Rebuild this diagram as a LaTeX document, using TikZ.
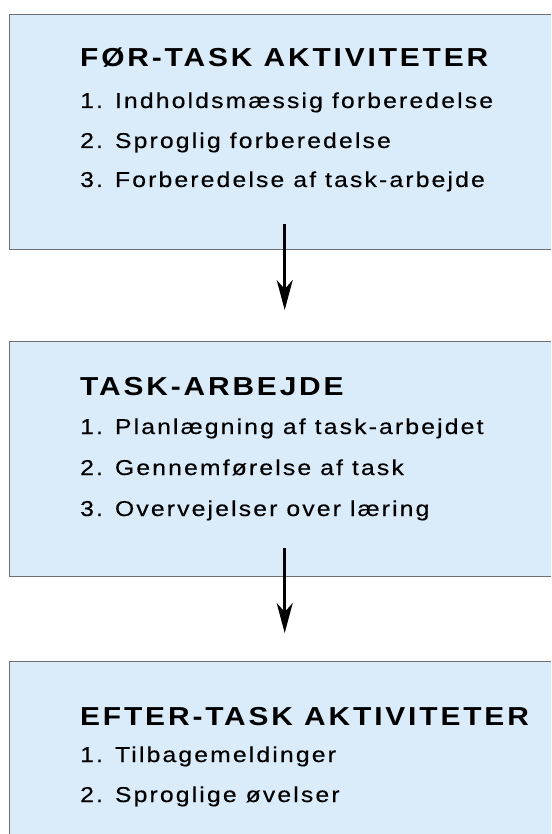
\documentclass[tikz,border=0pt]{standalone}
\usepackage{fontspec}
\setmainfont{Liberation Sans}
\newfontfamily\hfont[LetterSpace=11,FakeStretch=1.15]{Liberation Sans}
\newfontfamily\ifont[LetterSpace=10,FakeStretch=1.15,FakeBold=0.4]{Liberation Sans}
\usetikzlibrary{arrows.meta}
\definecolor{boxfill}{RGB}{218,236,250}
\definecolor{boxline}{RGB}{110,112,115}
\tikzset{
  flowbox/.style={draw=boxline, line width=1.4pt, fill=boxfill, minimum width=550.6pt, anchor=north west, inner sep=0pt},
  headtext/.style={anchor=base west, inner sep=0pt, font=\hfont\bfseries\fontsize{26}{30}\selectfont},
  itemtext/.style={anchor=base west, inner sep=0pt, font=\ifont\fontsize{21.5}{25}\selectfont},
  flowarrow/.style={line width=2.7pt, -{Stealth[length=30pt, width=16pt, inset=9pt]}}
}
\begin{document}
\begin{tikzpicture}[x=1pt,y=-1pt]
\clip (0,0) rectangle (551,834);
\fill[white] (0,0) rectangle (551,834);
\node[flowbox, minimum height=235pt] (b1) at (8.7,14) {};
\node[flowbox, minimum height=235pt] (b2) at (8.7,341) {};
\node[flowbox, minimum height=220pt] (b3) at (8.7,661) {};

\node[headtext] (h1) at (80,67) {FØR-TASK AKTIVITETER};
\node[itemtext] (i11) at (80,108) {1. Indholdsmæssig forberedelse};
\node[itemtext] (i12) at (80,148) {2. Sproglig forberedelse};
\node[itemtext] (i13) at (80,187) {3. Forberedelse af task-arbejde};

\node[headtext] (h2) at (80,395) {TASK-ARBEJDE};
\node[itemtext] (i21) at (80,434) {1. Planlægning af task-arbejdet};
\node[itemtext] (i22) at (80,475) {2. Gennemførelse af task};
\node[itemtext] (i23) at (80,516) {3. Overvejelser over læring};

\node[headtext] (h3) at (80,725) {EFTER-TASK AKTIVITETER};
\node[itemtext] (i31) at (80,762) {1. Tilbagemeldinger};
\node[itemtext] (i32) at (80,802) {2. Sproglige øvelser};

\draw[flowarrow] ([yshift=26pt]b1.south) -- ([yshift=31pt]b2.north);
\draw[flowarrow] ([yshift=29pt]b2.south) -- ([yshift=28pt]b3.north);
\end{tikzpicture}
\end{document}
